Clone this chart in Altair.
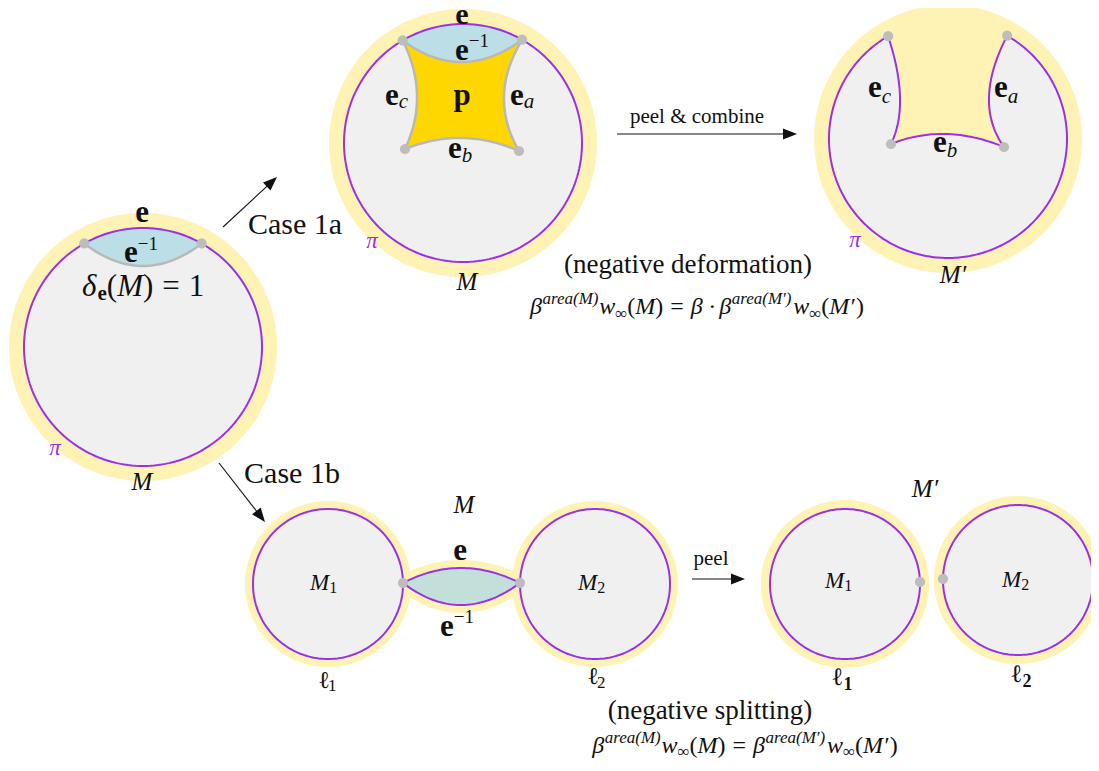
import math
import pandas as pd
import altair as alt

# ---------------- data (reference pixel coordinates) ----------------
disk_cx = [143, 463, 948, 328, 595, 845, 1018]
disk_cy = [347, 143, 139, 584, 584, 584, 580]
disk_r = [119, 119, 119, 75, 75, 75, 75]
ring_r = [134, 134, 134, 83, 83, 84, 84]
full_disks = [0, 1, 3, 4, 5, 6]

lensL_ends = [(84, 243), (202, 243)]
lensL_mid = (143, 266)

sq_corners = [(403, 41), (522, 40), (519, 151), (405, 149)]
sq_mids = [(462, 62), (504, 96), (462, 138), (417, 95)]   # top, right, bottom, left

cut_corners = [(888, 36), (1007, 36), (1004, 147), (891, 144)]  # TL, TR, BR, BL
cut_mids = [(989, 97), (946, 134), (900, 97)]                  # right, bottom, left

lensB_ends = [(402, 583), (521, 583)]
lensB_up_mid = (461, 568)
lensB_low_mid = (461, 605)

peel_pts = [(918, 582), (945, 579)]

arrow_from = [(223, 227), (219, 463), (617, 134), (692, 579)]
arrow_to = [(277, 177), (265, 522), (797, 134), (745, 579)]

YEL = "#fef3b5"
GRAY = "#f0f0f0"
PUR = "#9b30e6"
BLUE = "#bcdfe7"
GOLD = "#ffd700"
EDGE = "#b8b8b8"
DOT = "#bdbdbd"
TEAL = "#c2dfda"
BLK = "#111111"
FONT = "Liberation Serif"
SCRIPT_FONT = "DejaVu Serif"

# labels: (pieces, anchor x, baseline y, anchor mode, colour)
# piece = (text, kind, size, dy); kind r=roman, i=italic, b=bold, s=script, sb=bold script, g=gap(px)
EQ_GAP = ("", "g", 7, 0)
DOT_GAP = ("", "g", 5, 0)
FB, FS = 24, 17
labels = [
    ([("e", "b", 31, 0)], 142, 222, "c", BLK),
    ([("e", "b", 31, 0), ("−1", "r", 19, -12)], 124, 262, "l", BLK),
    ([("δ", "i", 31, 0), ("e", "b", 21, 4), ("(", "r", 31, 0), ("M", "i", 31, 0), (")", "r", 31, 0),
      ("", "g", 9, 0), ("=", "r", 31, 0), ("", "g", 9, 0), ("1", "r", 31, 0)], 82, 296, "l", BLK),
    ([("π", "i", 23, 0)], 55, 455, "c", PUR),
    ([("M", "i", 25, 0)], 142, 490, "c", BLK),
    ([("Case 1a", "r", 30, 0)], 295, 234, "c", BLK),
    ([("Case 1b", "r", 30, 0)], 292, 483, "c", BLK),
    # top middle
    ([("e", "b", 30, 0)], 462, 24, "c", BLK),
    ([("e", "b", 31, 0), ("−1", "r", 19, -13)], 455, 60, "l", BLK),
    ([("e", "b", 31, 0), ("c", "i", 21, 3)], 385, 105, "l", BLK),
    ([("p", "b", 31, 0)], 462, 105, "c", BLK),
    ([("e", "b", 31, 0), ("a", "i", 21, 3)], 510, 105, "l", BLK),
    ([("e", "b", 31, 0), ("b", "i", 21, 4)], 448, 158, "l", BLK),
    ([("π", "i", 23, 0)], 372, 248, "c", PUR),
    ([("M", "i", 25, 0)], 467, 290, "c", BLK),
    ([("peel & combine", "r", 21, 0)], 697, 123, "c", BLK),
    # top right
    ([("e", "b", 31, 0), ("c", "i", 21, 6)], 868, 97, "l", BLK),
    ([("e", "b", 31, 0), ("a", "i", 21, 6)], 994, 97, "l", BLK),
    ([("e", "b", 31, 0), ("b", "i", 21, 5)], 933, 152, "l", BLK),
    ([("π", "i", 23, 0)], 855, 247, "c", PUR),
    ([("M′", "i", 25, 0)], 953, 283, "c", BLK),
    ([("(negative deformation)", "r", 27, 0)], 688, 273, "c", BLK),
    ([("β", "i", FB, 0), ("area(M)", "i", FS, -10), ("w", "i", FB, 0), ("∞", "r", FS, 5),
      ("(", "r", FB, 0), ("M", "i", FB, 0), (")", "r", FB, 0), EQ_GAP, ("=", "r", FB, 0), EQ_GAP,
      ("β", "i", FB, 0), DOT_GAP, ("·", "r", FB, 0), DOT_GAP, ("β", "i", FB, 0),
      ("area(M′)", "i", FS, -10),
      ("w", "i", FB, 0), ("∞", "r", FS, 5), ("(", "r", FB, 0), ("M′", "i", FB, 0), (")", "r", FB, 0)],
     697, 314, "c", BLK),
    # bottom left
    ([("M", "i", 25, 0)], 464, 513, "c", BLK),
    ([("e", "b", 31, 0)], 460, 560, "c", BLK),
    ([("e", "b", 31, 0), ("−1", "r", 19, -13)], 440, 636, "l", BLK),
    ([("M", "i", 23, 0), ("1", "r", 16, 3)], 310, 590, "l", BLK),
    ([("M", "i", 23, 0), ("2", "r", 16, 3)], 578, 590, "l", BLK),
    ([("ℓ", "s", 24, 0), ("1", "r", 17, 3)], 318, 688, "l", BLK),
    ([("ℓ", "s", 24, 0), ("2", "r", 17, 4)], 587, 684, "l", BLK),
    # bottom right
    ([("peel", "r", 21, 0)], 711, 565, "c", BLK),
    ([("M′", "i", 25, 0)], 925, 497, "c", BLK),
    ([("M", "i", 23, 0), ("1", "r", 16, 3)], 825, 588, "l", BLK),
    ([("M", "i", 23, 0), ("2", "r", 16, 3)], 1002, 587, "l", BLK),
    ([("ℓ", "sb", 25, 0), ("1", "b", 18, 5)], 833, 685, "l", BLK),
    ([("ℓ", "sb", 25, 0), ("2", "b", 18, 5)], 1012, 682, "l", BLK),
    ([("(negative splitting)", "r", 27, 0)], 710, 719, "c", BLK),
    ([("β", "i", FB, 0), ("area(M)", "i", FS, -10), ("w", "i", FB, 0), ("∞", "r", FS, 4),
      ("(", "r", FB, 0), ("M", "i", FB, 0), (")", "r", FB, 0), EQ_GAP, ("=", "r", FB, 0), EQ_GAP,
      ("β", "i", FB, 0), ("area(M′)", "i", FS, -10),
      ("w", "i", FB, 0), ("∞", "r", FS, 4), ("(", "r", FB, 0), ("M′", "i", FB, 0), (")", "r", FB, 0)],
     745, 753, "c", BLK),
]

# approximate advance widths (em) of the fonts, used to chain label pieces
W_R = {"(": .333, ")": .333, "=": .564, "·": .25, "∞": .713, "−": .564, "1": .5, "2": .5, " ": .25}
W_I = {"β": .52, "w": .667, "M": .833, "a": .5, "r": .389, "e": .444, "(": .333, ")": .333,
       "′": .28, "δ": .5, "π": .5, "c": .444, "b": .5}
W_B = {"e": .444, "p": .556, "1": .5, "2": .5}
W_S = {"ℓ": .42}

PROJ = dict(type="identity", scale=1, translate=[-8, -8])


def text_width(t, kind, size):
    if kind == "g":
        return size
    table = {"r": W_R, "i": W_I, "b": W_B, "s": W_S, "sb": W_S}[kind]
    return sum(table.get(ch, .5) for ch in t) * size


text_rows = []
for pieces, ax, ay, mode, col in labels:
    if len(pieces) == 1:
        t, k, s, dy = pieces[0]
        text_rows.append((t, ax, ay + dy, s, col, k, "center" if mode == "c" else "left"))
        continue
    total = sum(text_width(t, k, s) for t, k, s, _ in pieces)
    x = ax - total / 2 if mode == "c" else ax
    for t, k, s, dy in pieces:
        if k != "g":
            text_rows.append((t, x, ay + dy, s, col, k, "left"))
        x += text_width(t, k, s)


# ---------------- geometry helpers ----------------
def arc_pts(i, a0, a1, n=160):
    cx, cy, r = disk_cx[i], disk_cy[i], disk_r[i]
    return [[cx + r * math.cos(a0 + (a1 - a0) * k / n), cy + r * math.sin(a0 + (a1 - a0) * k / n)]
            for k in range(n + 1)]


def circle_pts(cx, cy, r, n=200):
    return [[cx + r * math.cos(2 * math.pi * k / n), cy + r * math.sin(2 * math.pi * k / n)]
            for k in range(n + 1)]


def ang(i, p):
    return math.atan2(p[1] - disk_cy[i], p[0] - disk_cx[i])


def on_circle(i, p):
    a = ang(i, p)
    return (disk_cx[i] + disk_r[i] * math.cos(a), disk_cy[i] + disk_r[i] * math.sin(a))


def quad_pts(p0, pm, p2, n=40):
    c = (2 * pm[0] - (p0[0] + p2[0]) / 2, 2 * pm[1] - (p0[1] + p2[1]) / 2)
    out = []
    for k in range(n + 1):
        t = k / n
        out.append([(1 - t) ** 2 * p0[0] + 2 * (1 - t) * t * c[0] + t ** 2 * p2[0],
                    (1 - t) ** 2 * p0[1] + 2 * (1 - t) * t * c[1] + t ** 2 * p2[1]])
    return out


def poly(coords):
    ring = [list(p) for p in coords]
    if ring[0] != ring[-1]:
        ring.append(ring[0])
    return {"type": "Feature", "properties": {}, "geometry": {"type": "Polygon", "coordinates": [ring]}}


def line(coords):
    return {"type": "Feature", "properties": {},
            "geometry": {"type": "LineString", "coordinates": [list(p) for p in coords]}}


def geo(features, **mark):
    data = alt.InlineData(values={"type": "FeatureCollection", "features": features},
                          format=alt.DataFormat(property="features", type="json"))
    return alt.Chart(data).mark_geoshape(**mark).project(**PROJ)


# ---------------- build shapes ----------------
yellow_disks = [poly(circle_pts(disk_cx[i], disk_cy[i], ring_r[i])) for i in range(len(disk_cx))]
gray_disks = [poly(circle_pts(disk_cx[i], disk_cy[i], disk_r[i])) for i in full_disks]
purple_circles = [line(circle_pts(disk_cx[i], disk_cy[i], disk_r[i])) for i in full_disks]

lL = on_circle(0, lensL_ends[0])
lR = on_circle(0, lensL_ends[1])
lensL_low = quad_pts(lR, lensL_mid, lL)
lensL_poly = arc_pts(0, ang(0, lL), ang(0, lR)) + lensL_low[1:]

A = on_circle(1, sq_corners[0])
B = on_circle(1, sq_corners[1])
C, D = sq_corners[2], sq_corners[3]
sq_top = quad_pts(A, sq_mids[0], B)
sq_right = quad_pts(B, sq_mids[1], C)
sq_bottom = quad_pts(C, sq_mids[2], D)
sq_left = quad_pts(D, sq_mids[3], A)
lensT_poly = arc_pts(1, ang(1, A), ang(1, B)) + sq_top[::-1][1:]
square_poly = sq_top + sq_right[1:] + sq_bottom[1:] + sq_left[1:]

TL = on_circle(2, cut_corners[0])
TR = on_circle(2, cut_corners[1])
BR, BL = cut_corners[2], cut_corners[3]
cut_poly = (arc_pts(2, ang(2, TL), ang(2, TR) - 2 * math.pi, 300)
            + quad_pts(TR, cut_mids[0], BR)[1:]
            + quad_pts(BR, cut_mids[1], BL)[1:]
            + quad_pts(BL, cut_mids[2], TL)[1:])

bL = on_circle(3, lensB_ends[0])
bR = on_circle(4, lensB_ends[1])
lensB_up = quad_pts(bL, lensB_up_mid, bR)
lensB_low = quad_pts(bR, lensB_low_mid, bL)
lensB_poly = lensB_up + lensB_low[1:]

pp1 = on_circle(5, peel_pts[0])
pp2 = on_circle(6, peel_pts[1])

dots = [lL, lR, A, B, C, D, TL, TR, BR, BL, bL, bR, pp1, pp2]
dot_df = pd.DataFrame({"x": [p[0] for p in dots], "y": [p[1] for p in dots]})

arrow_lines, arrow_heads = [], []
for p0, p1 in zip(arrow_from, arrow_to):
    dx, dy = p1[0] - p0[0], p1[1] - p0[1]
    L = math.hypot(dx, dy)
    ux, uy = dx / L, dy / L
    hl, hw = 14, 5.5
    base = (p1[0] - ux * hl, p1[1] - uy * hl)
    arrow_lines.append(line([p0, (base[0] + ux * 2, base[1] + uy * 2)]))
    arrow_heads.append(poly([p1, (base[0] - uy * hw, base[1] + ux * hw),
                             (base[0] + uy * hw, base[1] - ux * hw)]))

layers = [
    geo(yellow_disks, fill=YEL, strokeWidth=0),
    geo([line(lensB_up), line(lensB_low)], filled=False, stroke=YEL, strokeWidth=16, strokeCap="round"),
    geo(gray_disks, fill=GRAY, strokeWidth=0),
    geo([poly(cut_poly)], fill=GRAY, stroke=PUR, strokeWidth=2, strokeJoin="round"),
    geo([poly(lensL_poly), poly(lensT_poly)], fill=BLUE, strokeWidth=0),
    geo([poly(lensB_poly)], fill=TEAL, strokeWidth=0),
    geo([poly(square_poly)], fill=GOLD, strokeWidth=0),
    geo([line(lensL_low), line(sq_top), line(sq_right), line(sq_bottom), line(sq_left)],
        filled=False, stroke=EDGE, strokeWidth=2.5),
    geo(purple_circles, filled=False, stroke=PUR, strokeWidth=2),
    geo([line(lensB_up), line(lensB_low)], filled=False, stroke=PUR, strokeWidth=2),
    alt.Chart(dot_df).mark_circle(size=105, color=DOT, opacity=1).encode(
        longitude="x:Q", latitude="y:Q").project(**PROJ),
    geo(arrow_lines, filled=False, stroke=BLK, strokeWidth=1.1),
    geo(arrow_heads, fill=BLK, strokeWidth=0),
]

text_df = pd.DataFrame(text_rows, columns=["t", "x", "y", "s", "c", "k", "al"])
STYLE = {"r": dict(font=FONT, fontStyle="normal", fontWeight="normal"),
         "i": dict(font=FONT, fontStyle="italic", fontWeight="normal"),
         "b": dict(font=FONT, fontStyle="normal", fontWeight="bold"),
         "s": dict(font=SCRIPT_FONT, fontStyle="normal", fontWeight="normal"),
         "sb": dict(font=SCRIPT_FONT, fontStyle="normal", fontWeight="bold")}
for (k, al), grp in text_df.groupby(["k", "al"]):
    layers.append(
        alt.Chart(grp.drop(columns=["k", "al"]).reset_index(drop=True)).mark_text(
            align=al, baseline="alphabetic", **STYLE[k]).encode(
            longitude="x:Q", latitude="y:Q", text="t:N",
            size=alt.Size("s:Q", scale=None), color=alt.Color("c:N", scale=None)).project(**PROJ))

chart = alt.layer(*layers).properties(
    width=1083, height=755, padding=0, autosize="none", background="white"
).configure_view(stroke=None)

chart.save("out.html", embed_options={"renderer": "svg", "actions": False})
